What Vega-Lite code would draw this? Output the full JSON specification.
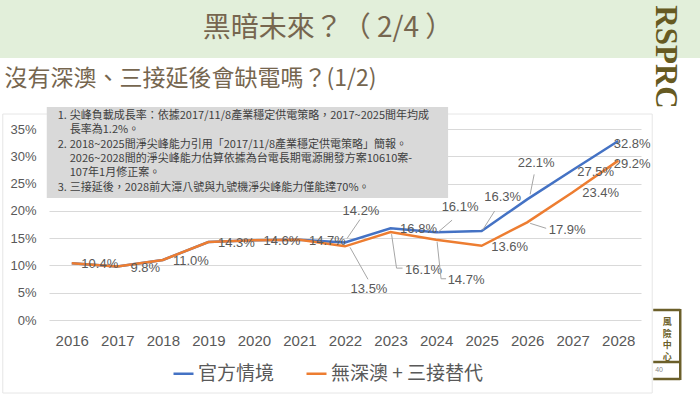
{
  "$schema": "https://vega.github.io/schema/vega-lite/v6.json",
  "width": 592,
  "height": 191,
  "autosize": {"type": "none"},
  "padding": {"left": 49, "top": 129, "right": 59, "bottom": 74},
  "background": "white",
  "config": {"view": {"stroke": null}},
  "title": {"text": "黑暗未來？（ 2/4 ）", "anchor": "middle", "frame": "group", "dx": -17, "offset": -57, "baseline": "middle", "fontSize": 28, "font": "Noto Sans CJK TC", "fontWeight": "normal", "color": "#76664f"},
  "data": {"values": [
    {"year": "2016", "series": "官方情境", "value": 0.104},
    {"year": "2017", "series": "官方情境", "value": 0.098},
    {"year": "2018", "series": "官方情境", "value": 0.110},
    {"year": "2019", "series": "官方情境", "value": 0.143},
    {"year": "2020", "series": "官方情境", "value": 0.146},
    {"year": "2021", "series": "官方情境", "value": 0.147},
    {"year": "2022", "series": "官方情境", "value": 0.142},
    {"year": "2023", "series": "官方情境", "value": 0.168},
    {"year": "2024", "series": "官方情境", "value": 0.161},
    {"year": "2025", "series": "官方情境", "value": 0.163},
    {"year": "2026", "series": "官方情境", "value": 0.221},
    {"year": "2027", "series": "官方情境", "value": 0.275},
    {"year": "2028", "series": "官方情境", "value": 0.328},
    {"year": "2016", "series": "無深澳 + 三接替代", "value": 0.104},
    {"year": "2017", "series": "無深澳 + 三接替代", "value": 0.098},
    {"year": "2018", "series": "無深澳 + 三接替代", "value": 0.110},
    {"year": "2019", "series": "無深澳 + 三接替代", "value": 0.143},
    {"year": "2020", "series": "無深澳 + 三接替代", "value": 0.146},
    {"year": "2021", "series": "無深澳 + 三接替代", "value": 0.147},
    {"year": "2022", "series": "無深澳 + 三接替代", "value": 0.135},
    {"year": "2023", "series": "無深澳 + 三接替代", "value": 0.161},
    {"year": "2024", "series": "無深澳 + 三接替代", "value": 0.147},
    {"year": "2025", "series": "無深澳 + 三接替代", "value": 0.136},
    {"year": "2026", "series": "無深澳 + 三接替代", "value": 0.179},
    {"year": "2027", "series": "無深澳 + 三接替代", "value": 0.234},
    {"year": "2028", "series": "無深澳 + 三接替代", "value": 0.292}
  ]},
  "layer": [
    {
      "mark": {"type": "line", "strokeWidth": 2.5},
      "encoding": {
        "x": {"field": "year", "type": "ordinal", "scale": {"type": "point", "padding": 0.5, "domain": ["2016","2017","2018","2019","2020","2021","2022","2023","2024","2025","2026","2027","2028"]},
              "axis": {"title": null, "labelAngle": 0, "labelFontSize": 15, "labelFont": "Liberation Sans", "labelColor": "#595959", "ticks": false, "domain": false, "labelPadding": 13, "grid": false}},
        "y": {"field": "value", "type": "quantitative", "scale": {"domain": [0, 0.35], "nice": false},
              "axis": {"values": [0, 0.05, 0.1, 0.15, 0.2, 0.25, 0.3, 0.35], "tickCount": 8, "labelOverlap": false, "format": ".0%", "labelFontSize": 13, "labelFont": "Liberation Sans", "labelColor": "#595959", "ticks": false, "domain": false, "labelPadding": 13, "gridColor": "#d9d9d9", "gridWidth": 1,
                       "title": "沒有深澳、三接延後會缺電嗎？(1/2)", "titleAngle": 0, "titleX": -45, "titleY": -51, "titleAlign": "left", "titleBaseline": "middle", "titleFontSize": 23, "titleFont": "Noto Sans CJK TC", "titleFontWeight": "normal", "titleColor": "#76664f"}},
        "color": {"field": "series", "type": "nominal", "scale": {"domain": ["官方情境", "無深澳 + 三接替代"], "range": ["#4472C4", "#ED7D31"]},
                  "legend": {"orient": "none", "legendX": 123, "legendY": 233, "direction": "horizontal", "title": null, "symbolType": "stroke", "symbolStrokeWidth": 2.5, "symbolSize": 400, "labelFontSize": 19, "labelFont": "Noto Sans CJK TC", "labelColor": "#595959", "columnPadding": 26, "labelOffset": 3}},
        "order": {"field": "year", "type": "ordinal"}
      }
    },
    {
      "data": {"values": [{}]},
      "mark": {"type": "rect", "color": "#e2efda", "xOffset": -72, "x2Offset": 82, "yOffset": -129, "y2Offset": -71},
      "encoding": {"x": {"datum": "2016", "type": "ordinal"}, "x2": {"datum": "2028"}, "y": {"datum": 0.35, "type": "quantitative"}, "y2": {"datum": 0.35}}
    },
    {
      "data": {"values": [{}]},
      "mark": {"type": "rect", "filled": false, "stroke": "#e6e6e6", "strokeWidth": 1, "xOffset": -69, "x2Offset": 34, "yOffset": -15, "y2Offset": 73},
      "encoding": {"x": {"datum": "2016", "type": "ordinal"}, "x2": {"datum": "2028"}, "y": {"datum": 0.35, "type": "quantitative"}, "y2": {"datum": 0}}
    },
    {
      "data": {"values": [{}]},
      "mark": {"type": "rect", "color": "#d9d9d9", "xOffset": -25, "x2Offset": 12, "yOffset": -22, "y2Offset": 69},
      "encoding": {"x": {"datum": "2016", "type": "ordinal"}, "x2": {"datum": "2024"}, "y": {"datum": 0.35, "type": "quantitative"}, "y2": {"datum": 0.35}}
    },
    {
      "data": {"values": [{}]},
      "mark": {"type": "text", "text": "1.", "align": "left", "baseline": "middle", "dx": -14, "dy": -13, "fontSize": 11, "font": "Noto Sans CJK TC", "color": "#404040"},
      "encoding": {"x": {"datum": "2016", "type": "ordinal"}, "y": {"datum": 0.35, "type": "quantitative"}}
    },
    {
      "data": {"values": [{}]},
      "mark": {"type": "text", "text": "2.", "align": "left", "baseline": "middle", "dx": -14, "dy": 15.6, "fontSize": 11, "font": "Noto Sans CJK TC", "color": "#404040"},
      "encoding": {"x": {"datum": "2016", "type": "ordinal"}, "y": {"datum": 0.35, "type": "quantitative"}}
    },
    {
      "data": {"values": [{}]},
      "mark": {"type": "text", "text": "3.", "align": "left", "baseline": "middle", "dx": -14, "dy": 58.5, "fontSize": 11, "font": "Noto Sans CJK TC", "color": "#404040"},
      "encoding": {"x": {"datum": "2016", "type": "ordinal"}, "y": {"datum": 0.35, "type": "quantitative"}}
    },
    {
      "data": {"values": [{}]},
      "mark": {"type": "text", "text": ["尖峰負載成長率：依據2017/11/8產業穩定供電策略，2017~2025間年均成", "長率為1.2%。", "2018~2025間淨尖峰能力引用「2017/11/8產業穩定供電策略」簡報。", "2026~2028間的淨尖峰能力估算依據為台電長期電源開發方案10610案-", "107年1月修正案。", " 三接延後，2028前大潭八號與九號機淨尖峰能力僅能達70%。"], "align": "left", "baseline": "middle", "dx": -2, "dy": -13, "lineHeight": 14.3, "fontSize": 11, "font": "Noto Sans CJK TC", "color": "#404040"},
      "encoding": {"x": {"datum": "2016", "type": "ordinal"}, "y": {"datum": 0.35, "type": "quantitative"}}
    },
    {
      "transform": [{"filter": "(datum.series === '官方情境' && indexof(['2016','2017','2018','2019','2020','2021','2023'], datum.year) >= 0) || (datum.series === '無深澳 + 三接替代' && indexof(['2025','2027'], datum.year) >= 0)"}],
      "mark": {"type": "text", "font": "Liberation Sans", "fontSize": 13, "color": "#595959", "align": "center", "baseline": "middle", "dx": 28, "dy": 1},
      "encoding": {"x": {"field": "year", "type": "ordinal"}, "y": {"field": "value", "type": "quantitative"}, "text": {"field": "value", "type": "quantitative", "format": ".1%"}}
    },
    {
      "transform": [{"filter": "datum.series === '官方情境' && datum.year === '2027'"}],
      "mark": {"type": "text", "font": "Liberation Sans", "fontSize": 13, "color": "#595959", "align": "center", "baseline": "middle", "dx": 23, "dy": 2},
      "encoding": {"x": {"field": "year", "type": "ordinal"}, "y": {"field": "value", "type": "quantitative"}, "text": {"field": "value", "type": "quantitative", "format": ".1%"}}
    },
    {
      "transform": [{"filter": "datum.year === '2028'"}],
      "mark": {"type": "text", "font": "Liberation Sans", "fontSize": 13, "color": "#595959", "align": "center", "baseline": "middle", "dx": 14, "dy": 3},
      "encoding": {"x": {"field": "year", "type": "ordinal"}, "y": {"field": "value", "type": "quantitative"}, "text": {"field": "value", "type": "quantitative", "format": ".1%"}}
    },
    {
      "transform": [{"filter": "datum.series === '官方情境' && datum.year === '2022'"}],
      "mark": {"type": "text", "font": "Liberation Sans", "fontSize": 13, "color": "#595959", "align": "center", "baseline": "middle", "dx": 16, "dy": -32},
      "encoding": {"x": {"field": "year", "type": "ordinal"}, "y": {"field": "value", "type": "quantitative"}, "text": {"field": "value", "type": "quantitative", "format": ".1%"}}
    },
    {
      "transform": [{"filter": "datum.series === '官方情境' && datum.year === '2022'"}],
      "mark": {"type": "rule", "color": "#a6a6a6", "strokeWidth": 1, "xOffset": 2, "yOffset": -4, "x2Offset": 15, "y2Offset": -23},
      "encoding": {"x": {"field": "year", "type": "ordinal"}, "x2": {"field": "year"}, "y": {"field": "value", "type": "quantitative"}, "y2": {"field": "value"}}
    },
    {
      "transform": [{"filter": "datum.series === '無深澳 + 三接替代' && datum.year === '2022'"}],
      "mark": {"type": "text", "font": "Liberation Sans", "fontSize": 13, "color": "#595959", "align": "center", "baseline": "middle", "dx": 24, "dy": 43},
      "encoding": {"x": {"field": "year", "type": "ordinal"}, "y": {"field": "value", "type": "quantitative"}, "text": {"field": "value", "type": "quantitative", "format": ".1%"}}
    },
    {
      "transform": [{"filter": "datum.series === '無深澳 + 三接替代' && datum.year === '2022'"}],
      "mark": {"type": "rule", "color": "#a6a6a6", "strokeWidth": 1, "xOffset": 5, "yOffset": 1, "x2Offset": 23, "y2Offset": 33},
      "encoding": {"x": {"field": "year", "type": "ordinal"}, "x2": {"field": "year"}, "y": {"field": "value", "type": "quantitative"}, "y2": {"field": "value"}}
    },
    {
      "transform": [{"filter": "datum.series === '無深澳 + 三接替代' && datum.year === '2023'"}],
      "mark": {"type": "text", "font": "Liberation Sans", "fontSize": 13, "color": "#595959", "align": "center", "baseline": "middle", "dx": 33, "dy": 38},
      "encoding": {"x": {"field": "year", "type": "ordinal"}, "y": {"field": "value", "type": "quantitative"}, "text": {"field": "value", "type": "quantitative", "format": ".1%"}}
    },
    {
      "transform": [{"filter": "datum.series === '無深澳 + 三接替代' && datum.year === '2023'"}],
      "mark": {"type": "rule", "color": "#a6a6a6", "strokeWidth": 1, "xOffset": 1, "yOffset": 2, "x2Offset": 6, "y2Offset": 36},
      "encoding": {"x": {"field": "year", "type": "ordinal"}, "x2": {"field": "year"}, "y": {"field": "value", "type": "quantitative"}, "y2": {"field": "value"}}
    },
    {
      "transform": [{"filter": "datum.series === '無深澳 + 三接替代' && datum.year === '2023'"}],
      "mark": {"type": "rule", "color": "#a6a6a6", "strokeWidth": 1, "xOffset": 6, "yOffset": 36, "x2Offset": 12, "y2Offset": 36},
      "encoding": {"x": {"field": "year", "type": "ordinal"}, "x2": {"field": "year"}, "y": {"field": "value", "type": "quantitative"}, "y2": {"field": "value"}}
    },
    {
      "transform": [{"filter": "datum.series === '官方情境' && datum.year === '2024'"}],
      "mark": {"type": "text", "font": "Liberation Sans", "fontSize": 13, "color": "#595959", "align": "center", "baseline": "middle", "dx": 24, "dy": -25},
      "encoding": {"x": {"field": "year", "type": "ordinal"}, "y": {"field": "value", "type": "quantitative"}, "text": {"field": "value", "type": "quantitative", "format": ".1%"}}
    },
    {
      "transform": [{"filter": "datum.series === '官方情境' && datum.year === '2024'"}],
      "mark": {"type": "rule", "color": "#a6a6a6", "strokeWidth": 1, "xOffset": 2, "yOffset": 0, "x2Offset": 16, "y2Offset": -12},
      "encoding": {"x": {"field": "year", "type": "ordinal"}, "x2": {"field": "year"}, "y": {"field": "value", "type": "quantitative"}, "y2": {"field": "value"}}
    },
    {
      "transform": [{"filter": "datum.series === '無深澳 + 三接替代' && datum.year === '2024'"}],
      "mark": {"type": "text", "font": "Liberation Sans", "fontSize": 13, "color": "#595959", "align": "center", "baseline": "middle", "dx": 30, "dy": 40},
      "encoding": {"x": {"field": "year", "type": "ordinal"}, "y": {"field": "value", "type": "quantitative"}, "text": {"field": "value", "type": "quantitative", "format": ".1%"}}
    },
    {
      "transform": [{"filter": "datum.series === '無深澳 + 三接替代' && datum.year === '2024'"}],
      "mark": {"type": "rule", "color": "#a6a6a6", "strokeWidth": 1, "xOffset": 1, "yOffset": 2, "x2Offset": 5, "y2Offset": 39},
      "encoding": {"x": {"field": "year", "type": "ordinal"}, "x2": {"field": "year"}, "y": {"field": "value", "type": "quantitative"}, "y2": {"field": "value"}}
    },
    {
      "transform": [{"filter": "datum.series === '無深澳 + 三接替代' && datum.year === '2024'"}],
      "mark": {"type": "rule", "color": "#a6a6a6", "strokeWidth": 1, "xOffset": 5, "yOffset": 39, "x2Offset": 10, "y2Offset": 39},
      "encoding": {"x": {"field": "year", "type": "ordinal"}, "x2": {"field": "year"}, "y": {"field": "value", "type": "quantitative"}, "y2": {"field": "value"}}
    },
    {
      "transform": [{"filter": "datum.series === '官方情境' && datum.year === '2025'"}],
      "mark": {"type": "text", "font": "Liberation Sans", "fontSize": 13, "color": "#595959", "align": "center", "baseline": "middle", "dx": 21, "dy": -34},
      "encoding": {"x": {"field": "year", "type": "ordinal"}, "y": {"field": "value", "type": "quantitative"}, "text": {"field": "value", "type": "quantitative", "format": ".1%"}}
    },
    {
      "transform": [{"filter": "datum.series === '官方情境' && datum.year === '2025'"}],
      "mark": {"type": "rule", "color": "#a6a6a6", "strokeWidth": 1, "xOffset": 1, "yOffset": -1, "x2Offset": 13, "y2Offset": -20},
      "encoding": {"x": {"field": "year", "type": "ordinal"}, "x2": {"field": "year"}, "y": {"field": "value", "type": "quantitative"}, "y2": {"field": "value"}}
    },
    {
      "transform": [{"filter": "datum.series === '官方情境' && datum.year === '2026'"}],
      "mark": {"type": "text", "font": "Liberation Sans", "fontSize": 13, "color": "#595959", "align": "center", "baseline": "middle", "dx": 9, "dy": -36},
      "encoding": {"x": {"field": "year", "type": "ordinal"}, "y": {"field": "value", "type": "quantitative"}, "text": {"field": "value", "type": "quantitative", "format": ".1%"}}
    },
    {
      "transform": [{"filter": "datum.series === '官方情境' && datum.year === '2026'"}],
      "mark": {"type": "rule", "color": "#a6a6a6", "strokeWidth": 1, "xOffset": 3, "yOffset": -5, "x2Offset": 7, "y2Offset": -25},
      "encoding": {"x": {"field": "year", "type": "ordinal"}, "x2": {"field": "year"}, "y": {"field": "value", "type": "quantitative"}, "y2": {"field": "value"}}
    },
    {
      "transform": [{"filter": "datum.series === '無深澳 + 三接替代' && datum.year === '2026'"}],
      "mark": {"type": "text", "font": "Liberation Sans", "fontSize": 13, "color": "#595959", "align": "center", "baseline": "middle", "dx": 40, "dy": 8},
      "encoding": {"x": {"field": "year", "type": "ordinal"}, "y": {"field": "value", "type": "quantitative"}, "text": {"field": "value", "type": "quantitative", "format": ".1%"}}
    },
    {
      "transform": [{"filter": "datum.series === '無深澳 + 三接替代' && datum.year === '2026'"}],
      "mark": {"type": "rule", "color": "#a6a6a6", "strokeWidth": 1, "xOffset": 3, "yOffset": 1, "x2Offset": 19, "y2Offset": 6},
      "encoding": {"x": {"field": "year", "type": "ordinal"}, "x2": {"field": "year"}, "y": {"field": "value", "type": "quantitative"}, "y2": {"field": "value"}}
    },
    {
      "data": {"values": [{}]},
      "mark": {"type": "text", "text": "RSPRC", "angle": 90, "align": "center", "baseline": "middle", "xOffset": 47, "yOffset": -72, "font": "Liberation Serif", "fontWeight": "bold", "fontSize": 31, "color": "#665a22"},
      "encoding": {"x": {"datum": "2028", "type": "ordinal"}, "y": {"datum": 0.35, "type": "quantitative"}}
    },
    {
      "data": {"values": [{}]},
      "mark": {"type": "rule", "color": "#6b5f2a", "strokeWidth": 2.5, "xOffset": 35, "x2Offset": 62, "yOffset": -10},
      "encoding": {"x": {"datum": "2028", "type": "ordinal"}, "x2": {"datum": "2028"}, "y": {"datum": 0, "type": "quantitative"}}
    },
    {
      "data": {"values": [{}]},
      "mark": {"type": "rule", "color": "#6b5f2a", "strokeWidth": 2.5, "xOffset": 35, "x2Offset": 62, "yOffset": 42},
      "encoding": {"x": {"datum": "2028", "type": "ordinal"}, "x2": {"datum": "2028"}, "y": {"datum": 0, "type": "quantitative"}}
    },
    {
      "data": {"values": [{}]},
      "mark": {"type": "rule", "color": "#6b5f2a", "strokeWidth": 2.5, "xOffset": 35, "x2Offset": 62, "yOffset": 59},
      "encoding": {"x": {"datum": "2028", "type": "ordinal"}, "x2": {"datum": "2028"}, "y": {"datum": 0, "type": "quantitative"}}
    },
    {
      "data": {"values": [{}]},
      "mark": {"type": "rule", "color": "#6b5f2a", "strokeWidth": 2.5, "xOffset": 62, "yOffset": -11, "y2Offset": 60},
      "encoding": {"x": {"datum": "2028", "type": "ordinal"}, "y": {"datum": 0, "type": "quantitative"}, "y2": {"datum": 0}}
    },
    {
      "data": {"values": [{}]},
      "mark": {"type": "text", "text": ["風", "險", "中", "心"], "align": "center", "baseline": "middle", "xOffset": 49, "yOffset": 2, "lineHeight": 11.5, "fontSize": 9, "font": "Noto Sans CJK TC", "fontWeight": "bold", "color": "#6b5f2a"},
      "encoding": {"x": {"datum": "2028", "type": "ordinal"}, "y": {"datum": 0, "type": "quantitative"}}
    },
    {
      "data": {"values": [{}]},
      "mark": {"type": "text", "text": "40", "align": "left", "baseline": "middle", "xOffset": 37, "yOffset": 50, "fontSize": 7, "font": "Liberation Sans", "color": "#888888"},
      "encoding": {"x": {"datum": "2028", "type": "ordinal"}, "y": {"datum": 0, "type": "quantitative"}}
    }
  ]
}
